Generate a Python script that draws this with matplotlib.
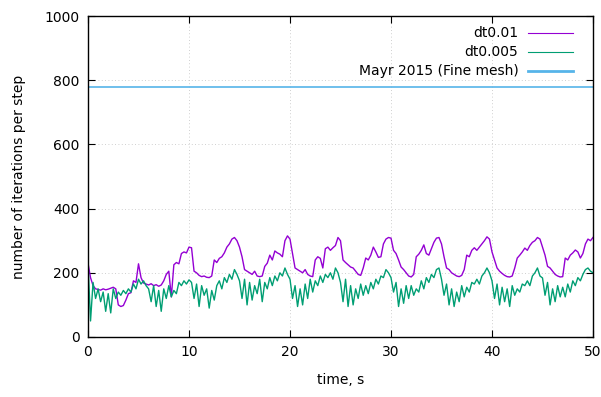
import numpy as np
import matplotlib
matplotlib.use("Agg")
import matplotlib.pyplot as plt

dt = 0.25
dt001 = [230, 185, 160, 150, 148, 146, 150, 147, 149, 152, 155, 150,
         100, 95, 98, 115, 135, 138, 175, 170, 228, 185, 168, 165,
         162, 166, 160, 163, 158, 162, 175, 195, 205, 125, 225, 232,
         228, 260, 265, 262, 280, 278, 205, 200, 192, 188, 190, 186,
         185, 190, 240, 232, 245, 250, 262, 280, 290, 305, 310, 300,
         280, 250, 210, 205, 200, 195, 205, 190, 188, 190, 220, 230,
         255, 240, 268, 262, 258, 250, 300, 315, 305, 260, 215, 210,
         205, 200, 210, 195, 190, 188, 240, 250, 245, 215, 275, 280,
         270, 278, 285, 310, 300, 240, 232, 225, 218, 215, 205, 195,
         192, 215, 246, 240, 255, 280, 265, 248, 250, 290, 305, 310,
         308, 270, 260, 240, 218, 210, 200, 190, 187, 195, 250, 258,
         270, 287, 260, 255, 275, 295, 308, 310, 290, 250, 215, 210,
         200, 195, 190, 188, 192, 210, 255, 250, 270, 278, 270, 280,
         290, 300, 312, 305, 265, 240, 215, 205, 198, 192, 188, 187,
         190, 215, 246, 255, 265, 277, 270, 285, 295, 300, 310, 305,
         280, 255, 220, 215, 205, 195, 190, 187, 188, 246, 240, 255,
         262, 271, 265, 246, 260, 290, 305, 300, 310]
dt0005 = [230, 50, 170, 120, 150, 110, 140, 80, 135, 75, 150, 120,
          140, 130, 145, 135, 150, 140, 165, 150, 180, 165, 175, 160,
          150, 110, 160, 95, 145, 80, 150, 120, 160, 125, 145, 135,
          170, 160, 175, 165, 178, 170, 120, 165, 95, 160, 130, 150,
          90, 145, 115, 160, 175, 150, 185, 170, 195, 180, 210, 195,
          175, 120, 180, 100, 170, 115, 160, 135, 180, 110, 170, 150,
          185, 160, 190, 175, 200, 190, 215, 195, 180, 120, 160, 95,
          150, 100, 165, 120, 180, 140, 175, 160, 190, 170, 195, 185,
          200, 180, 215, 200, 170, 110, 180, 95, 160, 100, 150, 120,
          165, 130, 160, 135, 170, 150, 180, 165, 190, 185, 210, 200,
          185, 140, 170, 95, 150, 105, 160, 120, 160, 130, 150, 140,
          175, 150, 185, 170, 195, 185, 210, 215, 180, 130, 165, 100,
          150, 95, 140, 110, 160, 125, 155, 140, 170, 165, 180, 165,
          190, 200, 215, 200, 175, 120, 165, 100, 155, 110, 150, 95,
          160, 130, 150, 140, 165, 160, 175, 160, 190, 200, 215, 190,
          184, 130, 170, 100, 150, 110, 160, 125, 155, 125, 165, 140,
          175, 160, 185, 175, 195, 210, 215, 205, 200]
mayr = 780

t1 = np.arange(len(dt001)) * dt
t2 = np.arange(len(dt0005)) * dt

fig = plt.figure(figsize=(6.01, 3.97), dpi=100)
ax = fig.add_axes([88 / 601, 60 / 397, 505 / 601, 321 / 397])

purple = "#9400D3"
green = "#009E73"
blue = "#56B4E9"

ax.plot(t1, dt001, color=purple, lw=1.0)
ax.plot(t2, dt0005, color=green, lw=1.0)
ax.axhline(mayr, color=blue, lw=1.2)

ax.set_xlim(0, 50)
ax.set_ylim(0, 1000)
ax.set_xticks(range(0, 51, 10))
ax.set_yticks(range(0, 1001, 200))
ax.grid(True, color="#c0c0c0", ls=(0, (1, 3)), lw=0.6)
ax.tick_params(direction="in", top=True, right=True, length=5, labelsize=10, pad=6)
for s in ax.spines.values():
    s.set_linewidth(1.0)

ax.set_xlabel("time, s", fontsize=10, labelpad=10)
ax.set_ylabel("number of iterations per step", fontsize=10, labelpad=13)

# gnuplot-style key: text right-aligned, sample line on the right
labels = ["dt0.01", "dt0.005", "Mayr 2015 (Fine mesh)"]
colors = [purple, green, blue]
widths = [0.8, 0.8, 2.0]
ys = [0.947, 0.888, 0.829]
for lab, c, w, y in zip(labels, colors, widths, ys):
    ax.text(0.852, y, lab, transform=ax.transAxes, ha="right", va="center", fontsize=10)
    ax.plot([0.871, 0.960], [y, y], transform=ax.transAxes, color=c, lw=w)

fig.savefig("out.png", dpi=100)
